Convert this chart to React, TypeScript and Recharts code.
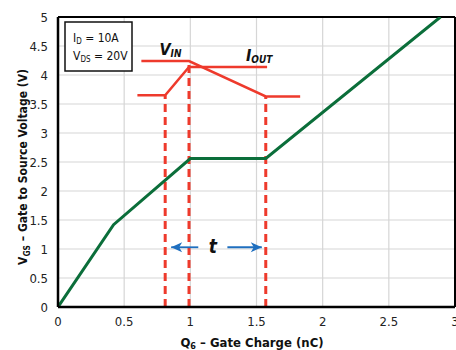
import {
  LineChart,
  Line,
  XAxis,
  YAxis,
  CartesianGrid,
  ReferenceLine,
  ReferenceDot,
} from "recharts";

const xTicks = [0, 0.5, 1, 1.5, 2, 2.5, 3];
const yTicks = [0, 0.5, 1, 1.5, 2, 2.5, 3, 3.5, 4, 4.5, 5];

// gate voltage curve
const vgsCurve = [
  { x: 0, y: 0 },
  { x: 0.42, y: 1.42 },
  { x: 1.0, y: 2.56 },
  { x: 1.57, y: 2.56 },
  { x: 2.89, y: 5 },
];

// switching waveforms (red)
const vinWave = [
  { x: 0.6, y: 3.65 },
  { x: 0.81, y: 3.65 },
  { x: 0.99, y: 4.14 },
  { x: 1.58, y: 4.14 },
];
const ioutWave = [
  { x: 0.63, y: 4.24 },
  { x: 0.99, y: 4.24 },
  { x: 1.57, y: 3.63 },
  { x: 1.83, y: 3.63 },
];

const dashA = [
  { x: 0.81, y: 0 },
  { x: 0.81, y: 3.65 },
];
const dashB = [
  { x: 0.99, y: 0 },
  { x: 0.99, y: 4.24 },
];
const dashC = [
  { x: 1.57, y: 0 },
  { x: 1.57, y: 3.63 },
];

const arrowLeft = [
  { x: 0.855, y: 1.03 },
  { x: 1.06, y: 1.03 },
];
const arrowRight = [
  { x: 1.28, y: 1.03 },
  { x: 1.54, y: 1.03 },
];

const FONT = "'DejaVu Sans Condensed', 'Liberation Sans Narrow', sans-serif";
const RED = "#ee3a2c";
const GREEN = "#0b6e3a";
const BLUE = "#1f6fbf";

const ArrowHead = (dir: "left" | "right") => (props: any) => {
  const { cx, cy, index } = props;
  const isEnd = dir === "left" ? index === 0 : index === 1;
  if (!isEnd) return <g key={index} />;
  const s = dir === "left" ? 1 : -1;
  return (
    <path
      key={index}
      d={`M${cx},${cy} L${cx + s * 11},${cy - 5} L${cx + s * 8},${cy} L${cx + s * 11},${cy + 5} Z`}
      fill={BLUE}
    />
  );
};

const YLabel = () => (
  <text
    transform="translate(27,167) rotate(-90)"
    textAnchor="middle"
    fontFamily={FONT}
    fontWeight="bold"
    fontSize={13}
    fill="#111"
    textLength={196}
    lengthAdjust="spacingAndGlyphs"
  >
    V<tspan fontSize={9} dy={3}>GS</tspan>
    <tspan dy={-3}> – Gate to Source Voltage (V)</tspan>
  </text>
);

const XLabel = () => (
  <text
    x={252}
    y={347}
    textAnchor="middle"
    fontFamily={FONT}
    fontWeight="bold"
    fontSize={13}
    fill="#111"
  >
    Q<tspan fontSize={9} dy={2}>6</tspan>
    <tspan dy={-2}> – Gate Charge (nC)</tspan>
  </text>
);

export default function App() {
  return (
    <div style={{ position: "absolute", left: 0, top: 0, background: "#fff" }}>
      <LineChart
        width={456}
        height={350}
        margin={{ top: 17, right: 1, left: 0, bottom: 0 }}
        style={{ fontFamily: FONT }}
      >
        <CartesianGrid stroke="#d6d6d6" strokeWidth={1.2} />
        <XAxis
          type="number"
          dataKey="x"
          domain={[0, 3]}
          ticks={xTicks}
          allowDataOverflow
          interval={0}
          height={43}
          tickLine={false}
          axisLine={{ stroke: "#000", strokeWidth: 2.5 }}
          tick={{ fill: "#222", fontSize: 13, fontFamily: FONT }}
          tickMargin={4}
          label={<XLabel />}
        />
        <YAxis
          type="number"
          dataKey="y"
          domain={[0, 5]}
          ticks={yTicks}
          allowDataOverflow
          interval={0}
          width={58}
          tickLine={false}
          axisLine={{ stroke: "#000", strokeWidth: 2.5 }}
          tick={{ fill: "#222", fontSize: 13, fontFamily: FONT }}
          tickMargin={4}
          label={<YLabel />}
        />
        <ReferenceLine y={5} stroke="#000" strokeWidth={2} />
        <ReferenceLine x={3} stroke="#000" strokeWidth={2} />

        {[dashA, dashB, dashC].map((d, i) => (
          <Line
            key={i}
            data={d}
            dataKey="y"
            stroke={RED}
            strokeWidth={3}
            strokeDasharray="8 5"
            dot={false}
            isAnimationActive={false}
          />
        ))}
        <Line data={vinWave} dataKey="y" stroke={RED} strokeWidth={2.5} dot={false} isAnimationActive={false} />
        <Line data={ioutWave} dataKey="y" stroke={RED} strokeWidth={2.5} dot={false} isAnimationActive={false} />
        <Line data={vgsCurve} dataKey="y" stroke={GREEN} strokeWidth={3} dot={false} isAnimationActive={false} />
        <Line
          data={arrowLeft}
          dataKey="y"
          stroke={BLUE}
          strokeWidth={1.8}
          dot={ArrowHead("left")}
          isAnimationActive={false}
        />
        <Line
          data={arrowRight}
          dataKey="y"
          stroke={BLUE}
          strokeWidth={1.8}
          dot={ArrowHead("right")}
          isAnimationActive={false}
        />

        <ReferenceDot
          x={1.17}
          y={1.03}
          r={0}
          shape={(p: any) => (
            <text x={p.cx} y={p.cy + 6} textAnchor="middle" fontFamily={FONT} fontSize={19} fontWeight="bold" fontStyle="italic" fill="#111">
              t
            </text>
          )}
        />
        <ReferenceDot
          x={0.85}
          y={4.34}
          r={0}
          shape={(p: any) => (
            <text x={p.cx} y={p.cy} textAnchor="middle" fontFamily={FONT} fontSize={16} fontWeight="bold" fontStyle="italic" fill="#111">
              V<tspan fontSize={10} dy={2}>IN</tspan>
            </text>
          )}
        />
        <ReferenceDot
          x={1.52}
          y={4.24}
          r={0}
          shape={(p: any) => (
            <text x={p.cx} y={p.cy} textAnchor="middle" fontFamily={FONT} fontSize={16} fontWeight="bold" fontStyle="italic" fill="#111">
              I<tspan fontSize={10} dy={2}>OUT</tspan>
            </text>
          )}
        />
        <ReferenceDot
          x={0}
          y={5}
          r={0}
          shape={(p: any) => (
            <g>
              <rect x={p.cx + 7} y={p.cy + 5} width={67} height={49} fill="#fff" stroke="#111" strokeWidth={1.5} />
              <text x={p.cx + 15} y={p.cy + 25} fontFamily={FONT} fontSize={12} fill="#111">
                I<tspan fontSize={8} dy={2}>D</tspan>
                <tspan dy={-2}> = 10A</tspan>
              </text>
              <text x={p.cx + 15} y={p.cy + 43} fontFamily={FONT} fontSize={12} fill="#111">
                V<tspan fontSize={8} dy={2}>DS</tspan>
                <tspan dy={-2}> = 20V</tspan>
              </text>
            </g>
          )}
        />
      </LineChart>
    </div>
  );
}
